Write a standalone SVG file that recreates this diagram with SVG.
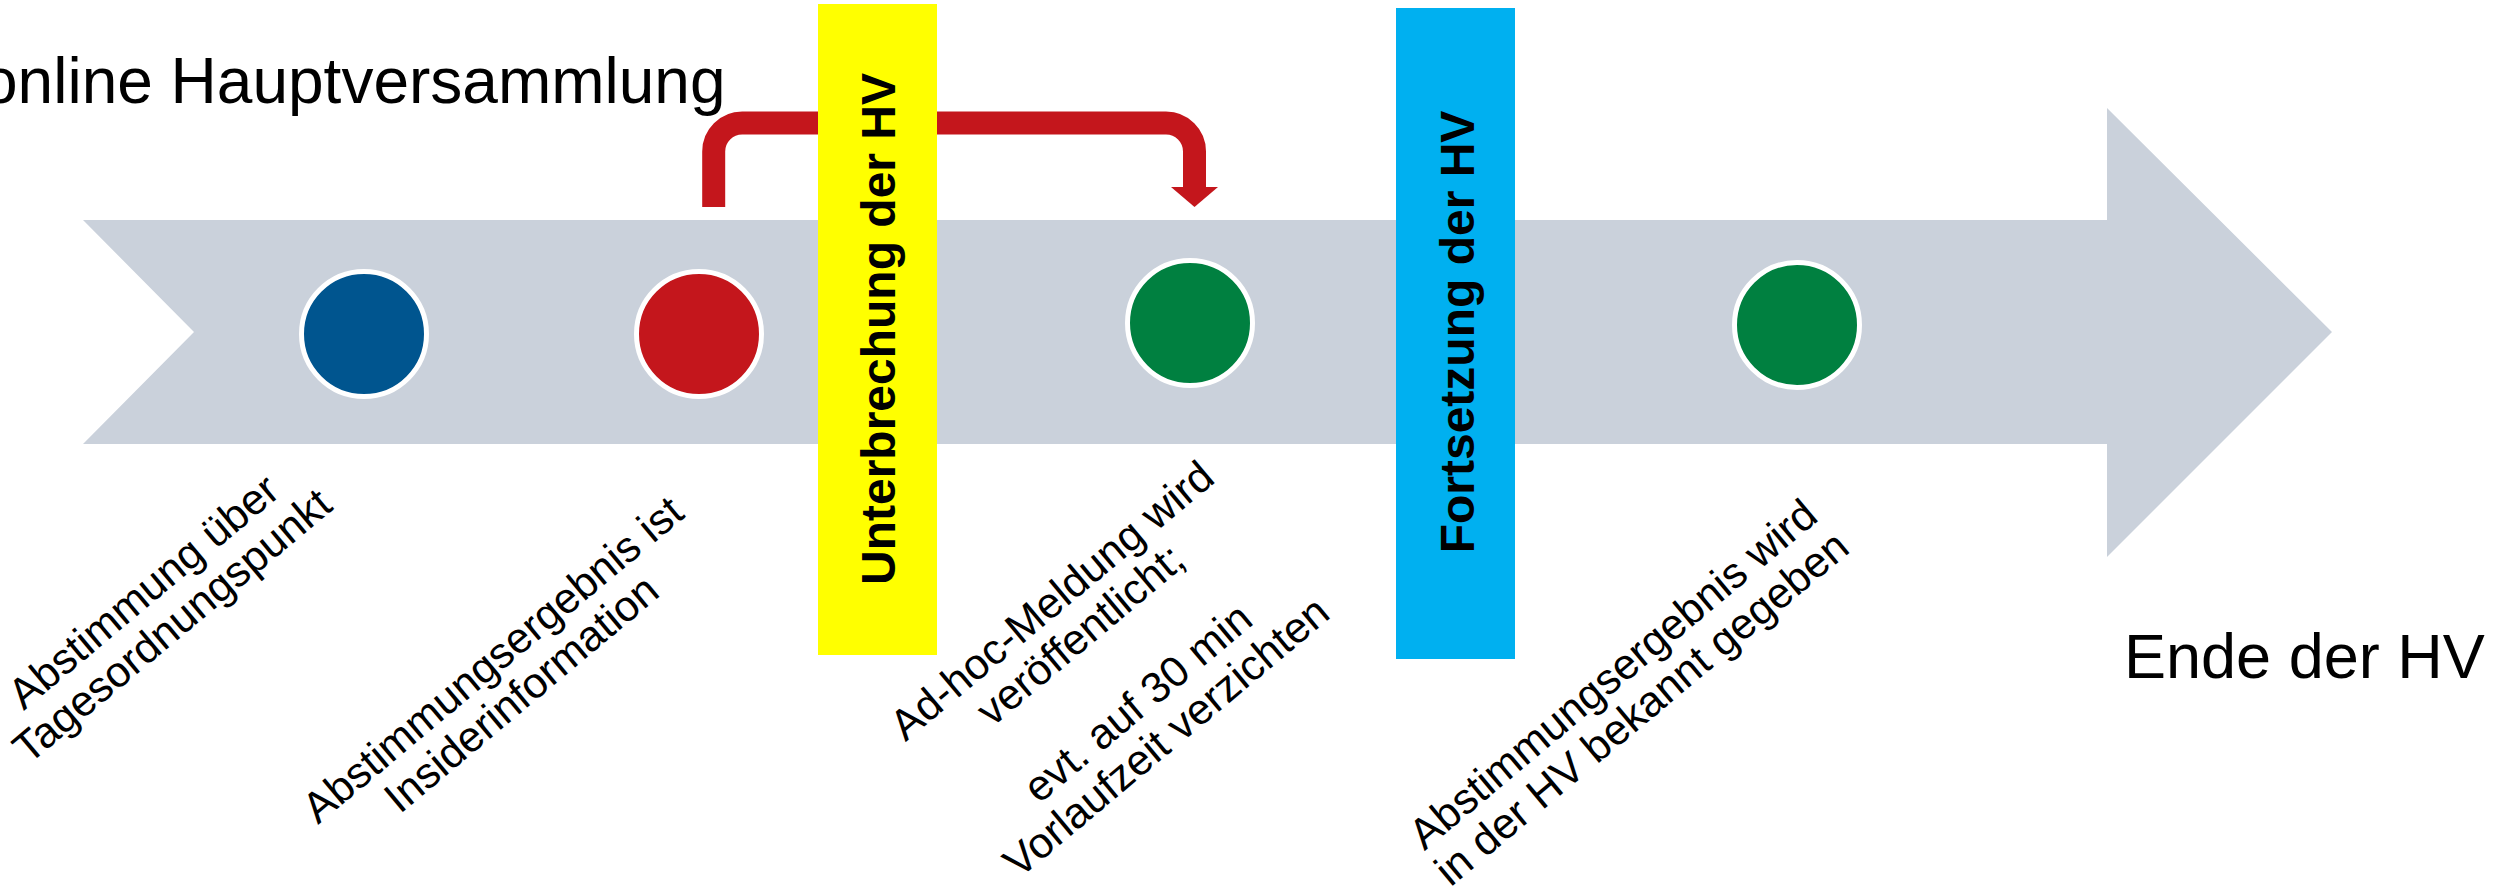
<svg xmlns="http://www.w3.org/2000/svg" width="2514" height="891" viewBox="0 0 2514 891">
  <style>
    .t { font-family: "Liberation Sans", Arial, sans-serif; fill: #000; }
    .big { font-size: 64px; }
    .lbl { font-size: 43px; text-anchor: middle; }
    .bar { font-size: 48px; font-weight: bold; text-anchor: middle; }
    .dot { stroke: #FFFFFF; stroke-width: 5; }
    .conn { fill: none; stroke: #C4161C; stroke-width: 23; }
  </style>
  <rect width="2514" height="891" fill="#FFFFFF"/>

  <g id="timeline-arrow">
    <polygon points="83,220 2107,220 2107,108 2332,332 2107,557 2107,444 83,444 194,332" fill="#CAD1DB"/>
  </g>

  <g id="title">
    <text class="t big" x="-18" y="103">online Hauptversammlung</text>
  </g>

  <g id="node-abstimmung">
    <circle class="dot" cx="364" cy="334" r="62.5" fill="#00558F"/>
  </g>
  <g id="node-insider">
    <circle class="dot" cx="699" cy="334" r="62.5" fill="#C4161C"/>
  </g>
  <g id="node-adhoc">
    <circle class="dot" cx="1190" cy="323" r="62.5" fill="#008040"/>
  </g>
  <g id="node-bekannt">
    <circle class="dot" cx="1797" cy="325" r="62.5" fill="#008040"/>
  </g>

  <g id="connectors">
    <path class="conn" d="M 713.7 207 V 151.5 A 28.5 28.5 0 0 1 742.2 123 H 1166 A 28.5 28.5 0 0 1 1194.5 151.5 V 188"/>
    <polygon points="1171,187 1218,187 1194.5,207" fill="#C4161C"/>
  </g>

  <g id="bar-unterbrechung">
    <rect x="818" y="4" width="119" height="651" fill="#FFFF00"/>
    <text class="t bar" transform="translate(894.5,329) rotate(-90)" x="0" y="0">Unterbrechung der HV</text>
  </g>

  <g id="bar-fortsetzung">
    <rect x="1396" y="8" width="119" height="651" fill="#00B0F0"/>
    <text class="t bar" transform="translate(1473.5,332) rotate(-90)" x="0" y="0">Fortsetzung der HV</text>
  </g>

  <g id="label-abstimmung" transform="translate(157.5,608.3) rotate(-40)">
    <text class="t lbl" x="0" y="-7.25">Abstimmung über</text>
    <text class="t lbl" x="0" y="37.25">Tagesordnungspunkt</text>
  </g>

  <g id="label-insider" transform="translate(506.7,676.2) rotate(-40)">
    <text class="t lbl" x="0" y="-7.25">Abstimmungsergebnis ist</text>
    <text class="t lbl" x="0" y="37.25">Insiderinformation</text>
  </g>

  <g id="label-adhoc" transform="translate(1108.7,668.3) rotate(-40)">
    <text class="t lbl" x="0" y="-74">Ad-hoc-Meldung wird</text>
    <text class="t lbl" x="0" y="-29.5">veröffentlicht;</text>
    <text class="t lbl" x="0" y="59.5">evt. auf 30 min</text>
    <text class="t lbl" x="0" y="104">Vorlaufzeit verzichten</text>
  </g>

  <g id="label-bekannt" transform="translate(1627,690.8) rotate(-40)">
    <text class="t lbl" x="0" y="-7.25">Abstimmungsergebnis wird</text>
    <text class="t lbl" x="0" y="37.25">in der HV bekannt gegeben</text>
  </g>

  <g id="end-label">
    <text class="t big" x="2124" y="678" style="font-size:63px">Ende der HV</text>
  </g>
</svg>
